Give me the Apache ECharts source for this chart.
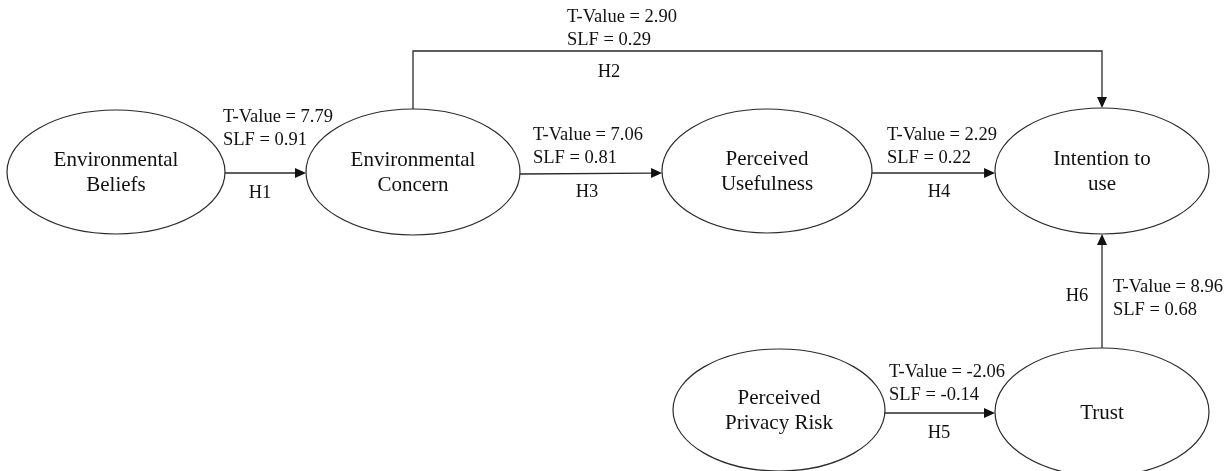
<!DOCTYPE html>
<html><head><meta charset="utf-8">
<script src="https://cdn.jsdelivr.net/npm/echarts@6/dist/echarts.min.js"></script>
<style>html,body{margin:0;padding:0;background:#fff}#main{width:1231px;height:471px}</style>
</head><body><div id="main"></div>
<script>
// ---- data ----
const constructs = ['Environmental Beliefs','Environmental Concern','Perceived Usefulness','Intention to use','Perceived Privacy Risk','Trust'];
const constructLabels = ['Environmental\nBeliefs','Environmental\nConcern','Perceived\nUsefulness','Intention to\nuse','Perceived\nPrivacy Risk','Trust'];
const hypotheses = ['H1','H2','H3','H4','H5','H6'];
const pathFrom = ['Environmental Beliefs','Environmental Concern','Environmental Concern','Perceived Usefulness','Perceived Privacy Risk','Trust'];
const pathTo = ['Environmental Concern','Intention to use','Perceived Usefulness','Intention to use','Trust','Intention to use'];
const tValues = [7.79, 2.90, 7.06, 2.29, -2.06, 8.96];
const slfValues = [0.91, 0.29, 0.81, 0.22, -0.14, 0.68];

// ---- layout (diagram units = hidden axis units) ----
const nodeLayout = {
  'Environmental Beliefs':  {cx:116,  cy:172, rx:109, ry:62},
  'Environmental Concern':  {cx:413,  cy:172, rx:107, ry:63},
  'Perceived Usefulness':   {cx:767,  cy:171, rx:105, ry:62},
  'Intention to use':       {cx:1102, cy:171, rx:107, ry:63},
  'Perceived Privacy Risk': {cx:779,  cy:410, rx:106, ry:61},
  'Trust':                  {cx:1102, cy:412, rx:107, ry:64}
};
const routeLayout = {
  H1:{type:'h', ys:173, ye:173},
  H2:{type:'elbow', top:51},
  H3:{type:'h', ys:174, ye:173},
  H4:{type:'h', ys:173, ye:173},
  H5:{type:'h', ys:413, ye:413},
  H6:{type:'v'}
};
const labelLayout = {
  H1:{tv:[223,117], h:[260,193]},
  H2:{tv:[567,17],  h:[609,72]},
  H3:{tv:[533,135], h:[587,192]},
  H4:{tv:[887,135], h:[939,192]},
  H5:{tv:[889,372], h:[939,433]},
  H6:{tv:[1113,287],h:[1077,296]}
};
const LINE_GAP = 23;
const FONT_EDGE = '18.5px "Liberation Serif", "Times New Roman", serif';
const FONT_NODE = '21px "Liberation Serif", "Times New Roman", serif';
const INK = '#111';
const STROKE = '#2a2a2a';

function ellipseX(n, y, side){
  const d = (y - n.cy) / n.ry;
  return n.cx + side * n.rx * Math.sqrt(Math.max(0, 1 - d*d));
}
function routePoints(i){
  const h = hypotheses[i];
  const s = nodeLayout[pathFrom[i]], t = nodeLayout[pathTo[i]];
  const r = routeLayout[h];
  if (r.type === 'h') return [[ellipseX(s, r.ys, 1), r.ys], [ellipseX(t, r.ye, -1), r.ye]];
  if (r.type === 'elbow') return [[s.cx, s.cy - s.ry], [s.cx, r.top], [t.cx, r.top], [t.cx, t.cy - t.ry]];
  return [[s.cx, s.cy - s.ry], [t.cx, t.cy + t.ry]];
}

const chart = echarts.init(document.getElementById('main'), null, {renderer:'canvas'});
const option = {
  animation:false,
  backgroundColor:'#fff',
  grid:{left:0,right:0,top:0,bottom:0},
  xAxis:{type:'value',min:0,max:1231,show:false},
  yAxis:{type:'value',min:0,max:471,inverse:true,show:false},
  series:[
    {
      type:'custom', coordinateSystem:'cartesian2d', clip:false,
      data: constructs.map((c,i)=>[nodeLayout[c].cx, nodeLayout[c].cy, i]),
      encode:{x:0,y:1},
      renderItem:function(params, api){
        const i = api.value(2);
        const n = nodeLayout[constructs[i]];
        const c = api.coord([n.cx, n.cy]);
        const e = api.coord([n.cx + n.rx, n.cy + n.ry]);
        return {type:'group', children:[
          {type:'ellipse', shape:{cx:c[0], cy:c[1], rx:e[0]-c[0], ry:e[1]-c[1]},
           style:{fill:'#fff', stroke:STROKE, lineWidth:1.2}},
          {type:'text', style:{text:constructLabels[i], x:c[0], y:c[1]+1, fill:INK,
            font:FONT_NODE, lineHeight:25, align:'center', verticalAlign:'middle'}}
        ]};
      }
    },
    {
      type:'custom', coordinateSystem:'cartesian2d', clip:false,
      data: hypotheses.map((h,i)=>[labelLayout[h].tv[0], labelLayout[h].tv[1], i]),
      encode:{x:0,y:1},
      renderItem:function(params, api){
        const i = api.value(2);
        const h = hypotheses[i];
        const pts = routePoints(i).map(p=>api.coord(p));
        const p = pts[pts.length-1], q = pts[pts.length-2];
        let dx = p[0]-q[0], dy = p[1]-q[1];
        const len = Math.sqrt(dx*dx+dy*dy); dx/=len; dy/=len;
        const L = 11, W = 5;
        const bx = p[0]-dx*L, by = p[1]-dy*L;
        const arrow = [[p[0],p[1]],[bx - dy*W, by + dx*W],[bx + dy*W, by - dx*W]];
        const line = pts.slice(0, -1).concat([[p[0]-dx*(L-1), p[1]-dy*(L-1)]]);
        const lb = labelLayout[h];
        const tv = api.coord(lb.tv), hh = api.coord(lb.h);
        return {type:'group', children:[
          {type:'polyline', shape:{points:line}, style:{stroke:STROKE, lineWidth:1.3, fill:null}},
          {type:'polygon', shape:{points:arrow}, style:{fill:'#111', stroke:null}},
          {type:'text', style:{text:'T-Value = ' + tValues[i].toFixed(2), x:tv[0], y:tv[1], fill:INK, font:FONT_EDGE, align:'left', verticalAlign:'middle'}},
          {type:'text', style:{text:'SLF = ' + slfValues[i].toFixed(2), x:tv[0], y:tv[1]+LINE_GAP, fill:INK, font:FONT_EDGE, align:'left', verticalAlign:'middle'}},
          {type:'text', style:{text:h, x:hh[0], y:hh[1], fill:INK, font:FONT_EDGE, align:'center', verticalAlign:'middle'}}
        ]};
      }
    }
  ]
};
chart.setOption(option);
</script>
</body></html>
